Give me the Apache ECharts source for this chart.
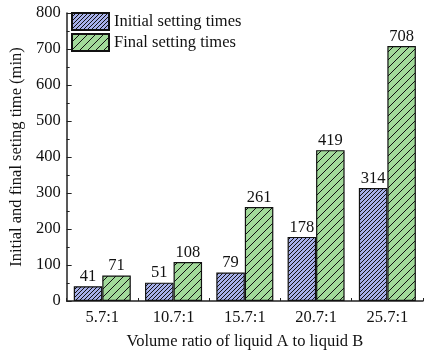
<!DOCTYPE html>
<html>
<head>
<meta charset="utf-8">
<script src="https://cdn.jsdelivr.net/npm/echarts@6/dist/echarts.min.js"></script>
<style>
  html, body { margin: 0; padding: 0; background: #fff; }
  #chart { width: 425px; height: 355px; }
</style>
</head>
<body>
<div id="chart"></div>
<script>
// Volume ratios and measured setting times (min)
const ratios = ['5.7:1', '10.7:1', '15.7:1', '20.7:1', '25.7:1'];
const initialTimes = [41, 51, 79, 178, 314];
const finalTimes = [71, 108, 261, 419, 708];
const seriesNames = ['Initial setting times', 'Final setting times'];

const FONT = '"Liberation Serif", "Times New Roman", serif';
const FS = 16.5;

// Hatched fill: base colour with "/" diagonal lines
function hatch(bg, step) {
  const c = document.createElement('canvas');
  c.width = step; c.height = step;
  const g = c.getContext('2d');
  g.fillStyle = bg;
  g.fillRect(0, 0, step, step);
  g.strokeStyle = '#111';
  g.lineWidth = 1;
  g.beginPath();
  g.moveTo(-1, step + 1); g.lineTo(step + 1, -1);
  g.moveTo(-1, 1); g.lineTo(1, -1);
  g.moveTo(step - 1, step + 1); g.lineTo(step + 1, step - 1);
  g.stroke();
  return { image: c, repeat: 'repeat' };
}

const chart = echarts.init(document.getElementById('chart'), null, { renderer: 'canvas' });

const barLabel = {
  show: true, position: 'top', distance: 1,
  color: '#111', fontFamily: FONT, fontSize: FS
};

chart.setOption({
  animation: false,
  textStyle: { fontFamily: FONT },
  grid: { left: 64, top: 13, width: 359, height: 288, containLabel: false },
  legend: {
    orient: 'vertical', left: 71, top: 12, padding: 0,
    icon: 'rect',
    itemWidth: 37, itemHeight: 17, itemGap: 2,
    textStyle: { fontFamily: FONT, fontSize: FS, color: '#111' },
    data: seriesNames
  },
  xAxis: {
    type: 'category', data: ratios,
    name: 'Volume ratio of liquid A to liquid B',
    nameLocation: 'middle', nameGap: 32,
    nameTextStyle: { fontFamily: FONT, fontSize: FS, color: '#111' },
    axisLine: { lineStyle: { color: '#222', width: 1.5 } },
    axisTick: { show: true, inside: true, length: 3, lineStyle: { color: '#222' } },
    axisLabel: { fontFamily: FONT, fontSize: FS, color: '#111', margin: 8 }
  },
  yAxis: {
    type: 'value', min: 0, max: 800, interval: 100,
    name: 'Initial and final seting time (min)',
    nameLocation: 'middle', nameGap: 40,
    nameTextStyle: { fontFamily: FONT, fontSize: FS, color: '#111' },
    axisLine: { show: true, lineStyle: { color: '#222', width: 1.5 } },
    axisTick: { show: true, inside: true, length: 5, lineStyle: { color: '#222' } },
    minorTick: { show: true, splitNumber: 2, length: 3, lineStyle: { color: '#222' } },
    splitLine: { show: false },
    axisLabel: { fontFamily: FONT, fontSize: FS, color: '#111', margin: 6 }
  },
  series: [
    {
      name: seriesNames[0], type: 'bar', data: initialTimes,
      barGap: '0%', barCategoryGap: '20%',
      itemStyle: { color: hatch('#a7b0ea', 4), borderColor: '#111', borderWidth: 1.2 },
      label: barLabel
    },
    {
      name: seriesNames[1], type: 'bar', data: finalTimes,
      barGap: '0%', barCategoryGap: '20%',
      itemStyle: { color: hatch('#a2da9a', 8), borderColor: '#111', borderWidth: 1.2 },
      label: barLabel
    }
  ]
});
</script>
</body>
</html>
